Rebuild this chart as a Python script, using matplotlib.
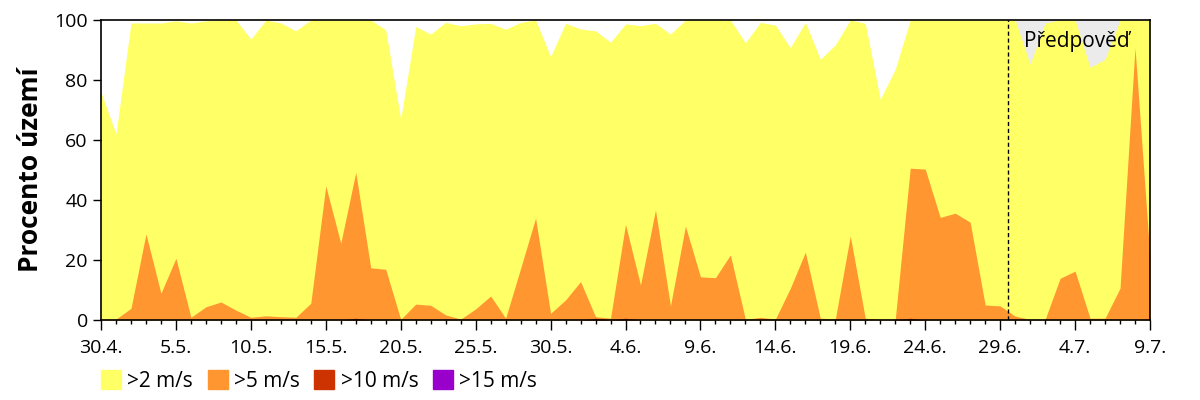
import numpy as np
import matplotlib.pyplot as plt
from matplotlib.patches import Patch

# popisky osy x (každých 5 dní)
tick_labels = ['30.4.', '5.5.', '10.5.', '15.5.', '20.5.', '25.5.', '30.5.', '4.6.',
               '9.6.', '14.6.', '19.6.', '24.6.', '29.6.', '4.7.', '9.7.']

# procento území s větrem > 2 m/s (30.4. - 9.7.)
over2 = [76, 62, 99, 99, 99, 99.7, 99, 99.7, 100, 100,
         93.6, 100, 99, 96.4, 100, 100, 100, 100, 100, 96.7,
         67, 97.8, 95.3, 99.2, 98.1, 98.7, 98.9, 96.9, 99.2, 100,
         87.8, 98.9, 97, 96.4, 92.6, 98.7, 98.1, 98.9, 95.3, 100,
         100, 100, 100, 92.4, 99.2, 98.3, 90.8, 99.2, 86.9, 91.7,
         100, 98.9, 73.6, 83.6, 100, 100, 100, 100, 100, 100,
         100, 100, 85.3, 99, 100, 100, 84.2, 86.9, 100, 100,
         100]
# > 5 m/s
over5 = [0.3, 0.3, 3.9, 28.7, 8.9, 20.6, 0.9, 4.4, 6, 3.3,
         0.9, 1.4, 1.1, 0.9, 5.6, 44.7, 25.6, 49.2, 17.4, 16.9,
         0.2, 5.3, 4.9, 1.7, 0.3, 3.7, 8, 0.6, 17.2, 34,
         2.2, 6.7, 12.8, 1.1, 0.6, 31.9, 11.7, 36.7, 4.7, 31.3,
         14.4, 14.1, 21.7, 0.2, 0.9, 0.3, 10.6, 22.6, 0.6, 0.3,
         28, 0.6, 0.2, 0.2, 50.6, 50.3, 34.2, 35.6, 32.6, 5,
         4.7, 1.3, 0.2, 0.2, 13.9, 16.3, 0.6, 0.6, 10.6, 90.8,
         20.6]
# > 10 m/s (jen drobné hodnoty)
over10 = [0] * 71
for d in (17, 33, 35, 54):
    over10[d] = 0.6
# > 15 m/s
over15 = [0] * 71

forecast_start = 60.5

days = np.arange(len(over2))

plt.rcParams['font.family'] = ['Open Sans', 'DejaVu Sans']
fig = plt.figure(figsize=(12, 4), dpi=100)
ax = fig.add_axes([101 / 1200, 0.2, 1049 / 1200, 0.75])

# pozadí předpovědi
ax.axvspan(forecast_start, days[-1], color='#ebebeb', lw=0, zorder=0)

colors = ['#ffff66', '#ff9630', '#cc3300', '#9900cc']
for vals, c in zip([over2, over5, over10, over15], colors):
    ax.fill_between(days, 0, vals, color=c, lw=0, zorder=1)

ax.axvline(forecast_start, color='black', lw=1, ls=(0, (3, 2)), zorder=3)
ax.text(forecast_start + 1.1, 92.8, 'Předpověď', fontsize=15, va='center', zorder=4)

ax.set_xlim(0, days[-1])
ax.set_ylim(0, 100)
ax.set_xticks(np.arange(0, 71, 5))
ax.set_xticklabels(tick_labels)
ax.set_xticks(days, minor=True)
ax.set_yticks(np.arange(0, 101, 20))
ax.tick_params(axis='both', which='major', labelsize=14, length=6, width=1)
ax.tick_params(axis='x', which='major', length=7, pad=7)
ax.tick_params(axis='x', which='minor', length=3, width=1)
for s in ax.spines.values():
    s.set_linewidth(1.2)
    s.set_zorder(5)

ax.set_ylabel('Procento území', fontsize=19, fontweight='bold', labelpad=7)

handles = [Patch(color=c, label=l) for c, l in zip(colors, ['>2 m/s', '>5 m/s', '>10 m/s', '>15 m/s'])]
ax.legend(handles=handles, loc='upper left', bbox_to_anchor=(0.0, -0.168), ncol=4,
          frameon=False, fontsize=15, handlelength=0.96, handleheight=0.96,
          handletextpad=0.3, columnspacing=0.7, borderaxespad=0, borderpad=0)

fig.savefig('out.png', dpi=100)
